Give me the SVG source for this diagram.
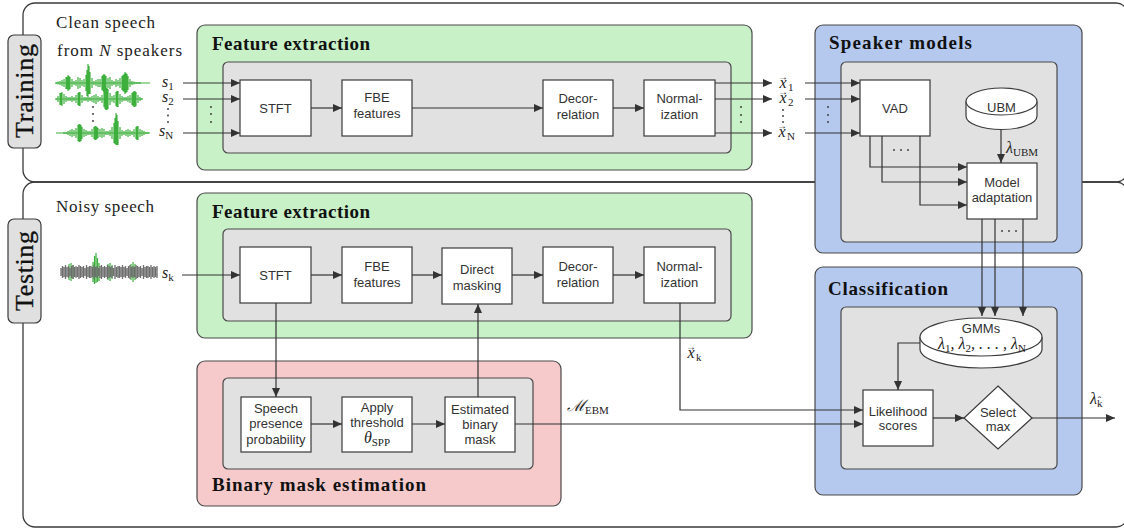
<svg xmlns="http://www.w3.org/2000/svg" width="1124" height="530" viewBox="0 0 1124 530">
<defs>
<marker id="ah" markerUnits="userSpaceOnUse" markerWidth="9" markerHeight="8" refX="9" refY="4" orient="auto">
<path d="M0,0 L9,4 L0,8 Z" fill="#333"/>
</marker>
<style>
.frame{fill:none;stroke:#3a3a3a;stroke-width:1.3}
.side{fill:#e0e0e0;stroke:#3a3a3a;stroke-width:1.2}
.green{fill:#c8f1c8;stroke:#4a4a4a;stroke-width:1.2}
.blue{fill:#b5c9ef;stroke:#4a4a4a;stroke-width:1.2}
.pink{fill:#f6c9ca;stroke:#4a4a4a;stroke-width:1.2}
.inner{fill:#e1e1e1;stroke:#4a4a4a;stroke-width:1.2}
.box{fill:#fff;stroke:#3a3a3a;stroke-width:1.2}
.lbl{font-family:"Liberation Sans",Arial,sans-serif;font-size:13px;fill:#333;text-anchor:middle}
.hdr{font-family:"Liberation Serif","Times New Roman",serif;font-weight:bold;font-size:19px;fill:#111}
.cap{font-family:"Liberation Serif","Times New Roman",serif;font-size:17px;fill:#222}
.side-t{font-family:"Liberation Serif","Times New Roman",serif;font-size:26px;fill:#111;text-anchor:middle;stroke:#111;stroke-width:0.3}
.math{font-family:"Liberation Serif","Times New Roman",serif;font-style:italic;font-size:16px;fill:#222}
.sub{font-style:normal;font-size:11px}
.vec{font-style:normal;font-size:10px}
.conn{fill:none;stroke:#333;stroke-width:1.2;marker-end:url(#ah)}
.wg{fill:none;stroke:#3daf3d;stroke-width:1.2}
.wn{fill:none;stroke:#6e6e6e;stroke-width:1.3}
.dot{fill:#333}
</style>
</defs>
<rect width="1124" height="530" fill="#fff"/>

<g id="frames">
<path class="frame" d="M23,170 V15 A12,12 0 0 1 35,3 H1116 A12,12 0 0 1 1128,15 V170 A12,12 0 0 1 1116,182 H35 A12,12 0 0 1 23,170 Z"/>
<path class="frame" d="M35,182 H1116 A12,12 0 0 1 1128,194 V515 A12,12 0 0 1 1116,527 H35 A12,12 0 0 1 23,515 V194 A12,12 0 0 1 35,182 Z"/>
</g>

<g id="training-label">
<rect class="side" x="8" y="35" width="33" height="113" rx="6"/>
<text class="side-t" transform="translate(33,91) rotate(-90)" textLength="94">Training</text>
</g>
<g id="testing-label">
<rect class="side" x="8" y="219" width="33" height="104" rx="6"/>
<text class="side-t" transform="translate(33,271) rotate(-90)" textLength="80">Testing</text>
</g>

<g id="clean-speech">
<text class="cap" x="56" y="28" textLength="99">Clean speech</text>
<text class="cap" x="57" y="56" textLength="125">from <tspan font-style="italic">N</tspan> speakers</text>
<path class="wg" d="M56,83H150 M56,82v2M58,81.5v3M60,81v4M62,80v6M64,79v8M66,77v12M68,75v16M70,77v12M72,79v8M74,81v4M76,80v6M78,77v12M80,78v10M82,80v6M84,79v8M86,75v16M88,64v32M90,72v22M92,78v10M94,81v4M96,80v6M98,79v8M100,79v8M102,76v14M104,74v18M106,76v14M108,78v10M110,77v12M112,80v6M114,81v4M116,79v8M118,80v6M120,78v10M122,76v14M124,74v18M126,73v20M128,76v14M130,79v8M132,81v4M134,81.5v3M136,82v2M138,82v2M140,82v2 M67,77v12M69,76v14M87,70v26M89,66v28M103,75v16M105,75v16M123,75v16M125,72v22M127,74v18"/>
<path class="wg" d="M56,99H142 M56,98v2M58,96v6M60,93v12M62,92v14M64,94v10M66,96v6M68,97v4M70,97v4M72,96v6M74,97v4M76,95v8M78,93v12M80,92v14M82,95v8M84,97v4M86,97v4M88,96v6M90,97v4M92,96v6M94,95v8M96,94v10M98,96v6M100,97v4M102,95v8M104,91v16M106,88v22M108,89v20M110,93v12M112,96v6M114,95v8M116,92v14M118,91v16M120,94v10M122,96v6M124,97v4M126,97v4M128,96v6M130,95v8M132,93v12M134,91v16M136,92v14M138,95v8M140,97v4M142,98v2 M61,93v12M79,92v14M105,89v20M107,88v22M117,91v16M133,92v14M135,91v16"/>
<path class="wg" d="M56,133H150 M64,132v2M66,132v2M68,131v4M70,130v6M72,129v8M74,130v6M76,128v10M78,125v16M80,124v18M82,127v12M84,129v8M86,130v6M88,131v4M90,131v4M92,129v8M94,127v12M96,126v14M98,128v10M100,129v8M102,128v10M104,129v8M106,131v4M108,131v4M110,130v6M112,127v12M114,123v20M116,113v32M118,121v24M120,127v12M122,130v6M124,131v4M126,130v6M128,129v8M130,130v6M132,131v4M134,129v8M136,127v12M138,126v14M140,129v8M142,130v6M144,131v4M146,132v2M148,132v2 M79,124v18M81,125v16M95,126v14M97,127v12M115,118v26M117,115v30M137,126v14"/>
<circle class="dot" cx="93" cy="107" r="0.9"/><circle class="dot" cx="93" cy="114" r="0.9"/><circle class="dot" cx="93" cy="121" r="0.9"/>
<text class="math" x="162" y="87">s<tspan class="sub" dy="3">1</tspan></text>
<text class="math" x="162" y="102">s<tspan class="sub" dy="3">2</tspan></text>
<text class="math" x="159" y="136">s<tspan class="sub" dy="3" font-style="italic">N</tspan></text>
<circle class="dot" cx="168" cy="109" r="0.9"/><circle class="dot" cx="168" cy="115.5" r="0.9"/><circle class="dot" cx="168" cy="122" r="0.9"/>
</g>

<g id="noisy-speech">
<text class="cap" x="56" y="212" textLength="98">Noisy speech</text>
<path class="wg" d="M69,264v16M71,263v18M73,265v14M93,262v20M94.5,256v28M96,253v30M97.5,258v24M99,263v18M108,264v16M110,263v18M112,265v14M131,264v16M133,262v20M135,264v16"/>
<path class="wn" d="M61,268v8M62.5,266v12M64,267v10M65.5,265v14M67,267v10M68.5,266v12M70,268v8M71.5,266v12M73,265v14M74.5,267v10M76,266v12M77.5,267v10M79,265v14M80.5,266v12M82,267v10M83.5,266v12M85,268v8M86.5,265v14M88,267v10M89.5,266v12M91,266v12M92.5,267v10M94,265v14M95.5,267v10M97,266v12M98.5,268v8M100,266v12M101.5,265v14M103,267v10M104.5,266v12M106,267v10M107.5,265v14M109,266v12M110.5,267v10M112,266v12M113.5,268v8M115,265v14M116.5,267v10M118,266v12M119.5,266v12M121,267v10M122.5,265v14M124,267v10M125.5,266v12M127,268v8M128.5,266v12M130,265v14M131.5,267v10M133,266v12M134.5,267v10M136,265v14M137.5,266v12M139,267v10M140.5,266v12M142,268v8M143.5,265v14M145,267v10M146.5,266v12M148,266v12M149.5,267v10M151,265v14M152.5,267v10M154,266v12M155.5,267v10M157,266v12"/>
<text class="math" x="162" y="278">s<tspan class="sub" dy="3" font-style="italic">k</tspan></text>
</g>

<g id="train-feature-extraction">
<rect class="green" x="197" y="25" width="555" height="145" rx="8"/>
<text class="hdr" x="212" y="50" textLength="158">Feature extraction</text>
<rect class="inner" x="223" y="62" width="508" height="91" rx="5"/>
<circle class="dot" cx="211" cy="107" r="0.9"/><circle class="dot" cx="211" cy="114" r="0.9"/><circle class="dot" cx="211" cy="122" r="0.9"/>
<circle class="dot" cx="741" cy="107" r="0.9"/><circle class="dot" cx="741" cy="115" r="0.9"/><circle class="dot" cx="741" cy="122" r="0.9"/>
</g>
<g id="train-stft"><rect class="box" x="240" y="80" width="71" height="56"/><text class="lbl" x="275.5" y="112.5">STFT</text></g>
<g id="train-fbe"><rect class="box" x="342" y="80" width="70" height="56"/><text class="lbl" x="377" y="102">FBE</text><text class="lbl" x="377" y="118">features</text></g>
<g id="train-decor"><rect class="box" x="543" y="80" width="70" height="56"/><text class="lbl" x="578" y="103">Decor-</text><text class="lbl" x="578" y="119">relation</text></g>
<g id="train-norm"><rect class="box" x="644" y="80" width="71" height="56"/><text class="lbl" x="679.5" y="103">Normal-</text><text class="lbl" x="679.5" y="119">ization</text></g>

<g id="train-outputs">
<text class="math" x="778" y="88">x<tspan class="vec" dx="-8.5" dy="-8">→</tspan><tspan class="sub" dy="11">1</tspan></text>
<text class="math" x="778" y="103">x<tspan class="vec" dx="-8.5" dy="-8">→</tspan><tspan class="sub" dy="11">2</tspan></text>
<text class="math" x="777" y="137">x<tspan class="vec" dx="-8.5" dy="-8">→</tspan><tspan class="sub" dy="11" font-style="italic">N</tspan></text>
<circle class="dot" cx="783" cy="110" r="0.9"/><circle class="dot" cx="783" cy="116" r="0.9"/><circle class="dot" cx="783" cy="122" r="0.9"/>
</g>

<g id="speaker-models">
<rect class="blue" x="815" y="25" width="267" height="228" rx="8"/>
<text class="hdr" x="829" y="49" textLength="143">Speaker models</text>
<rect class="inner" x="841" y="62" width="216" height="180" rx="5"/>
<circle class="dot" cx="828" cy="107" r="0.9"/><circle class="dot" cx="828" cy="115" r="0.9"/><circle class="dot" cx="828" cy="122" r="0.9"/>
<circle class="dot" cx="894" cy="150" r="0.9"/><circle class="dot" cx="901" cy="150" r="0.9"/><circle class="dot" cx="908" cy="150" r="0.9"/>
<circle class="dot" cx="1002" cy="231" r="0.9"/><circle class="dot" cx="1009" cy="231" r="0.9"/><circle class="dot" cx="1016" cy="231" r="0.9"/>
</g>
<g id="vad"><rect class="box" x="860" y="80" width="70" height="56"/><text class="lbl" x="895" y="112.5">VAD</text></g>
<g id="ubm">
<path class="box" d="M966,101.5 V116 A35.5,13.5 0 0 0 1037,116 V101.5"/>
<ellipse class="box" cx="1001.5" cy="101.5" rx="35.5" ry="13.5"/>
<text class="lbl" x="1001.5" y="112">UBM</text>
<text class="math" x="1006" y="153" font-style="normal" font-size="17">λ<tspan class="sub" dy="3">UBM</tspan></text>
</g>
<g id="model-adaptation"><rect class="box" x="967" y="163" width="70" height="56"/><text class="lbl" x="1002" y="186.5">Model</text><text class="lbl" x="1002" y="201.5">adaptation</text></g>

<g id="test-feature-extraction">
<rect class="green" x="197" y="193" width="555" height="145" rx="8"/>
<text class="hdr" x="212" y="218" textLength="158">Feature extraction</text>
<rect class="inner" x="223" y="229" width="508" height="92" rx="5"/>
</g>
<g id="test-stft"><rect class="box" x="240" y="247" width="71" height="56"/><text class="lbl" x="275.5" y="279.5">STFT</text></g>
<g id="test-fbe"><rect class="box" x="342" y="247" width="70" height="56"/><text class="lbl" x="377" y="271">FBE</text><text class="lbl" x="377" y="287">features</text></g>
<g id="test-mask"><rect class="box" x="442" y="248" width="70" height="56"/><text class="lbl" x="477" y="274">Direct</text><text class="lbl" x="477" y="290">masking</text></g>
<g id="test-decor"><rect class="box" x="543" y="247" width="70" height="56"/><text class="lbl" x="578" y="271">Decor-</text><text class="lbl" x="578" y="287">relation</text></g>
<g id="test-norm"><rect class="box" x="644" y="247" width="71" height="56"/><text class="lbl" x="679.5" y="271">Normal-</text><text class="lbl" x="679.5" y="287">ization</text></g>

<g id="binary-mask-estimation">
<rect class="pink" x="197" y="361" width="364" height="145" rx="8"/>
<rect class="inner" x="223" y="378" width="310" height="91" rx="5"/>
<text class="hdr" x="212" y="491" textLength="214">Binary mask estimation</text>
</g>
<g id="spp"><rect class="box" x="241" y="397" width="70" height="55"/><text class="lbl" x="276" y="412.5">Speech</text><text class="lbl" x="276" y="428">presence</text><text class="lbl" x="276" y="443.5">probability</text></g>
<g id="threshold"><rect class="box" x="342" y="397" width="70" height="55"/><text class="lbl" x="377" y="411.5">Apply</text><text class="lbl" x="377" y="426.5">threshold</text><text class="math" x="377" y="443" text-anchor="middle" font-size="17">θ<tspan class="sub" dy="3">SPP</tspan></text></g>
<g id="ebm"><rect class="box" x="445" y="397" width="70" height="55"/><text class="lbl" x="480" y="413.5">Estimated</text><text class="lbl" x="480" y="428.5">binary</text><text class="lbl" x="480" y="443.5">mask</text></g>

<g id="classification">
<rect class="blue" x="815" y="267" width="267" height="228" rx="8"/>
<text class="hdr" x="828" y="295" textLength="120">Classification</text>
<rect class="inner" x="841" y="307" width="216" height="162" rx="5"/>
</g>
<g id="gmms">
<path class="box" d="M920,337 V349 A61,19 0 0 0 1042,349 V337"/>
<ellipse class="box" cx="981" cy="337" rx="61" ry="19"/>
<text class="lbl" x="981" y="333">GMMs</text>
<text class="math" x="982" y="349" text-anchor="middle" font-style="normal" font-size="17">λ<tspan class="sub" dy="3">1</tspan><tspan dy="-3">, λ</tspan><tspan class="sub" dy="3">2</tspan><tspan dy="-3">, . . . , λ</tspan><tspan class="sub" dy="3" font-style="italic">N</tspan></text>
</g>
<g id="likelihood"><rect class="box" x="863" y="390" width="70" height="56"/><text class="lbl" x="898" y="415.5">Likelihood</text><text class="lbl" x="898" y="430">scores</text></g>
<g id="select-max"><path class="box" d="M998,386 L1032,418 L998,449 L964,418 Z"/><text class="lbl" x="998" y="416.5">Select</text><text class="lbl" x="998" y="431">max</text></g>

<g id="connectors">
<path class="conn" d="M183,83 H240"/><path class="conn" d="M183,99 H240"/><path class="conn" d="M183,133 H240"/>
<path class="conn" d="M311,108 H342"/><path class="conn" d="M412,108 H543"/><path class="conn" d="M613,108 H644"/>
<path class="conn" d="M715,83 H772"/><path class="conn" d="M715,99 H772"/><path class="conn" d="M715,133 H772"/>
<path class="conn" d="M805,83 H860"/><path class="conn" d="M805,99 H860"/><path class="conn" d="M805,133 H860"/>
<path class="conn" d="M870,136 V167 H967"/><path class="conn" d="M882,136 V182 H967"/><path class="conn" d="M920,136 V205 H967"/>
<path class="conn" d="M1001,130 V163"/>
<path class="conn" d="M982,219 V316"/><path class="conn" d="M995,219 V316"/><path class="conn" d="M1023,219 V316"/>
<path class="conn" d="M182,275 H240"/>
<path class="conn" d="M311,275 H342"/><path class="conn" d="M412,275 H442"/><path class="conn" d="M512,275 H543"/><path class="conn" d="M613,275 H644"/>
<path class="conn" d="M276,303 V397"/>
<path class="conn" d="M478,397 V304"/>
<path class="conn" d="M311,424 H342"/><path class="conn" d="M412,424 H445"/>
<path class="conn" d="M515,424 H863"/>
<path class="conn" d="M680,303 V410 H863"/>
<path class="conn" d="M920,343 H898 V390"/>
<path class="conn" d="M933,418 H964"/>
<path class="conn" d="M1032,418 H1115"/>
</g>
<g id="connector-labels">
<text class="math" x="686" y="358">x<tspan class="vec" dx="-8.5" dy="-8">→</tspan><tspan class="sub" dy="11" font-style="italic">k</tspan></text>
<text class="math" x="567" y="411" font-size="17">ℳ<tspan class="sub" dy="3">EBM</tspan></text>
<text class="math" x="1090" y="404" font-style="normal" font-size="17">λ<tspan class="sub" dy="3" font-style="italic">k̂</tspan></text>
</g>
</svg>
